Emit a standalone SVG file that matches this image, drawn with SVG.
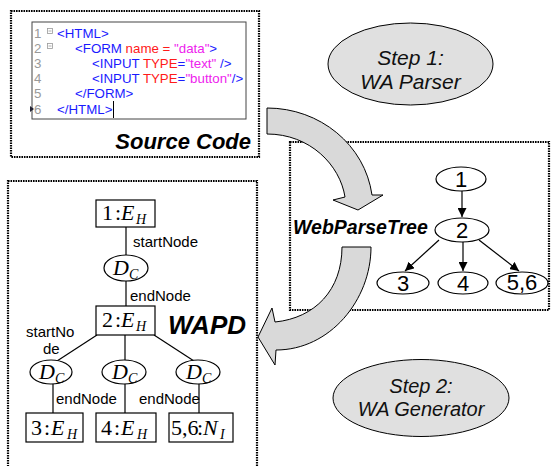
<svg xmlns="http://www.w3.org/2000/svg" width="552" height="466" viewBox="0 0 552 466">
<style>
.dot{fill:none;stroke:#000;stroke-width:2.2;stroke-dasharray:1.6 0.9}
.code{font-family:"Liberation Sans",Arial,sans-serif;font-size:13.3px}
.ln{fill:#999}
.tg{fill:#1a1aff}
.at{fill:#ff1a1a}
.st{fill:#ee22ee}
.step{font-family:"Liberation Sans",Arial,sans-serif;font-style:italic;fill:#111;text-anchor:middle}
.title{font-family:"Liberation Sans",Arial,sans-serif;font-style:italic;font-weight:bold;fill:#000}
.stepell{fill:#e0e0e0;stroke:#000;stroke-width:1}
.big{fill:#d9d9d9;stroke:#000;stroke-width:1}
.tn{fill:#fff;stroke:#000;stroke-width:1.2}
.tt{font-family:"Liberation Sans",Arial,sans-serif;font-size:22px;text-anchor:middle;fill:#000}
.edge{stroke:#000;stroke-width:1.2;fill:none}
.box{fill:#fff;stroke:#000;stroke-width:1.2}
.m{font-family:"Liberation Serif","Times New Roman",serif;font-size:22px;fill:#000}
.i{font-style:italic}
.sub{font-size:14px;font-style:italic}
.lbl{font-family:"Liberation Sans",Arial,sans-serif;font-size:15px;fill:#000}
</style>
<defs>
<marker id="ah" viewBox="0 0 10 10" refX="10" refY="5" markerWidth="9" markerHeight="9" markerUnits="userSpaceOnUse" orient="auto">
<path d="M0,0 L10,5 L0,10 Z" fill="#000"/>
</marker>
</defs>

<!-- Source code panel -->
<g id="source-code">
<rect class="dot" x="11" y="11" width="248" height="146"/>
<rect x="32" y="22" width="214" height="97" fill="#fff" stroke="#444" stroke-width="1"/>
<g class="code">
<text class="ln" x="34" y="38">1</text>
<text class="ln" x="34" y="53">2</text>
<text class="ln" x="34" y="68">3</text>
<text class="ln" x="34" y="83">4</text>
<text class="ln" x="34" y="98">5</text>
<text class="ln" x="34" y="114">6</text>
<text x="57" y="38" class="tg">&lt;HTML&gt;</text>
<text x="75" y="53"><tspan class="tg">&lt;FORM </tspan><tspan class="at">name = </tspan><tspan class="st">"data"</tspan><tspan class="tg">&gt;</tspan></text>
<text x="92" y="68"><tspan class="tg">&lt;INPUT </tspan><tspan class="at">TYPE</tspan><tspan class="tg">=</tspan><tspan class="st">"text"</tspan><tspan class="tg"> /&gt;</tspan></text>
<text x="92" y="83"><tspan class="tg">&lt;INPUT </tspan><tspan class="at">TYPE</tspan><tspan class="tg">=</tspan><tspan class="st">"button"</tspan><tspan class="tg">/&gt;</tspan></text>
<text x="75" y="98" class="tg">&lt;/FORM&gt;</text>
<text x="57" y="114" class="tg">&lt;/HTML&gt;</text>
</g>
<g fill="none" stroke="#999" stroke-width="0.8">
<rect x="47.5" y="28.5" width="5" height="5"/><line x1="48.5" y1="31" x2="51.5" y2="31"/>
<rect x="47.5" y="43.5" width="5" height="5"/><line x1="48.5" y1="46" x2="51.5" y2="46"/>
</g>
<path d="M30,106 L34,109 L30,112 Z" fill="#223"/>
<line x1="113.5" y1="101" x2="113.5" y2="118" stroke="#000" stroke-width="1"/>
<text class="title" x="251" y="149" font-size="22" text-anchor="end">Source Code</text>
</g>

<!-- Step ellipses -->
<g id="step1">
<ellipse class="stepell" cx="410.5" cy="64" rx="82.5" ry="41"/>
<text class="step" x="410.5" y="65" font-size="21">Step 1:</text>
<text class="step" x="410.5" y="89" font-size="21">WA Parser</text>
</g>
<g id="step2">
<ellipse class="stepell" cx="421" cy="398" rx="88" ry="38.5"/>
<text class="step" x="421" y="393" font-size="20">Step 2:</text>
<text class="step" x="421" y="416" font-size="20">WA Generator</text>
</g>

<!-- WebParseTree panel -->
<g id="webparsetree">
<rect class="dot" x="290" y="142" width="259" height="168"/>
<text class="title" x="293" y="234" font-size="19.5">WebParseTree</text>
</g>
<g id="t1"><ellipse class="tn" cx="461" cy="179" rx="25" ry="12"/><text class="tt" x="461" y="187">1</text></g>
<g id="t2"><ellipse class="tn" cx="462" cy="230" rx="27" ry="12"/><text class="tt" x="462" y="238">2</text></g>
<g id="t3"><ellipse class="tn" cx="403" cy="283" rx="26" ry="11"/><text class="tt" x="403" y="291">3</text></g>
<g id="t4"><ellipse class="tn" cx="463" cy="283" rx="25" ry="11"/><text class="tt" x="463" y="291">4</text></g>
<g id="t56"><ellipse class="tn" cx="522" cy="283" rx="26" ry="11"/><text class="tt" x="522" y="290" font-size="20">5,6</text></g>
<g id="tree-connectors">
<line class="edge" x1="462" y1="191" x2="462" y2="217" marker-end="url(#ah)"/>
<line class="edge" x1="439" y1="240" x2="405" y2="271" marker-end="url(#ah)"/>
<line class="edge" x1="463" y1="242" x2="463" y2="271" marker-end="url(#ah)"/>
<line class="edge" x1="479" y1="240" x2="519" y2="271" marker-end="url(#ah)"/>
</g>

<!-- WAPD panel -->
<g id="wapd">
<rect class="dot" x="8" y="181" width="249" height="295"/>
<text class="title" x="168" y="334" font-size="26">WAPD</text>
</g>
<g id="wapd-connectors">
<line class="edge" x1="126" y1="227" x2="126" y2="255"/>
<line class="edge" x1="126" y1="281" x2="126" y2="306"/>
<line class="edge" x1="97" y1="335" x2="57" y2="361"/>
<line class="edge" x1="125" y1="335" x2="125" y2="360"/>
<line class="edge" x1="154" y1="335" x2="194" y2="361"/>
<line class="edge" x1="53" y1="384" x2="53" y2="413"/>
<line class="edge" x1="125" y1="384" x2="125" y2="413"/>
<line class="edge" x1="199" y1="384" x2="199" y2="413"/>
<text class="lbl" x="133" y="247">startNode</text>
<text class="lbl" x="130" y="301">endNode</text>
<text class="lbl" x="26" y="337">startNo</text>
<text class="lbl" x="43" y="354">de</text>
<text class="lbl" x="56" y="404">endNode</text>
<text class="lbl" x="139" y="404">endNode</text>
</g>
<g id="n1"><rect class="box" x="96" y="200" width="59" height="27"/>
<text class="m" y="220"><tspan x="102">1</tspan><tspan x="115">:</tspan><tspan x="121" class="i">E</tspan><tspan x="136" dy="4" class="sub">H</tspan></text></g>
<g id="dc1"><ellipse class="tn" cx="126" cy="268" rx="22" ry="13"/>
<text class="m" y="275"><tspan x="113" class="i">D</tspan><tspan x="129" dy="4" class="sub">C</tspan></text></g>
<g id="n2"><rect class="box" x="96" y="306" width="59" height="29"/>
<text class="m" y="327"><tspan x="102">2</tspan><tspan x="115">:</tspan><tspan x="121" class="i">E</tspan><tspan x="136" dy="4" class="sub">H</tspan></text></g>
<g id="dc2"><ellipse class="tn" cx="51" cy="372" rx="21" ry="12"/>
<text class="m" y="379"><tspan x="39" class="i">D</tspan><tspan x="55" dy="4" class="sub">C</tspan></text></g>
<g id="dc3"><ellipse class="tn" cx="124" cy="372" rx="22" ry="12"/>
<text class="m" y="379"><tspan x="112" class="i">D</tspan><tspan x="128" dy="4" class="sub">C</tspan></text></g>
<g id="dc4"><ellipse class="tn" cx="198" cy="372" rx="22" ry="12"/>
<text class="m" y="379"><tspan x="186" class="i">D</tspan><tspan x="202" dy="4" class="sub">C</tspan></text></g>
<g id="n3"><rect class="box" x="26" y="413" width="57" height="29"/>
<text class="m" y="435" font-size="23"><tspan x="31">3</tspan><tspan x="44">:</tspan><tspan x="51" class="i">E</tspan><tspan x="67" dy="4" class="sub">H</tspan></text></g>
<g id="n4"><rect class="box" x="96" y="413" width="60" height="29"/>
<text class="m" y="435" font-size="23"><tspan x="101">4</tspan><tspan x="114">:</tspan><tspan x="121" class="i">E</tspan><tspan x="137" dy="4" class="sub">H</tspan></text></g>
<g id="n56"><rect class="box" x="169" y="413" width="64" height="29"/>
<text class="m" y="435" font-size="19"><tspan x="171">5,6</tspan><tspan x="197">:</tspan><tspan x="203" class="i">N</tspan><tspan x="220" dy="4" class="sub">I</tspan></text></g>

<!-- Big process arrows -->
<g id="arrows">
<path class="big" d="M267,108 C320,108 365,145 372,195 L383,195 L358,210 L333,200 L345,197 C340,165 310,134 267,134 Z"/>
<path class="big" d="M342,247 L371,247 C371,300 330,350 276,350 L275,365 L258,337 L272,308 L275,322 C315,318 342,290 342,247 Z"/>
</g>
</svg>
